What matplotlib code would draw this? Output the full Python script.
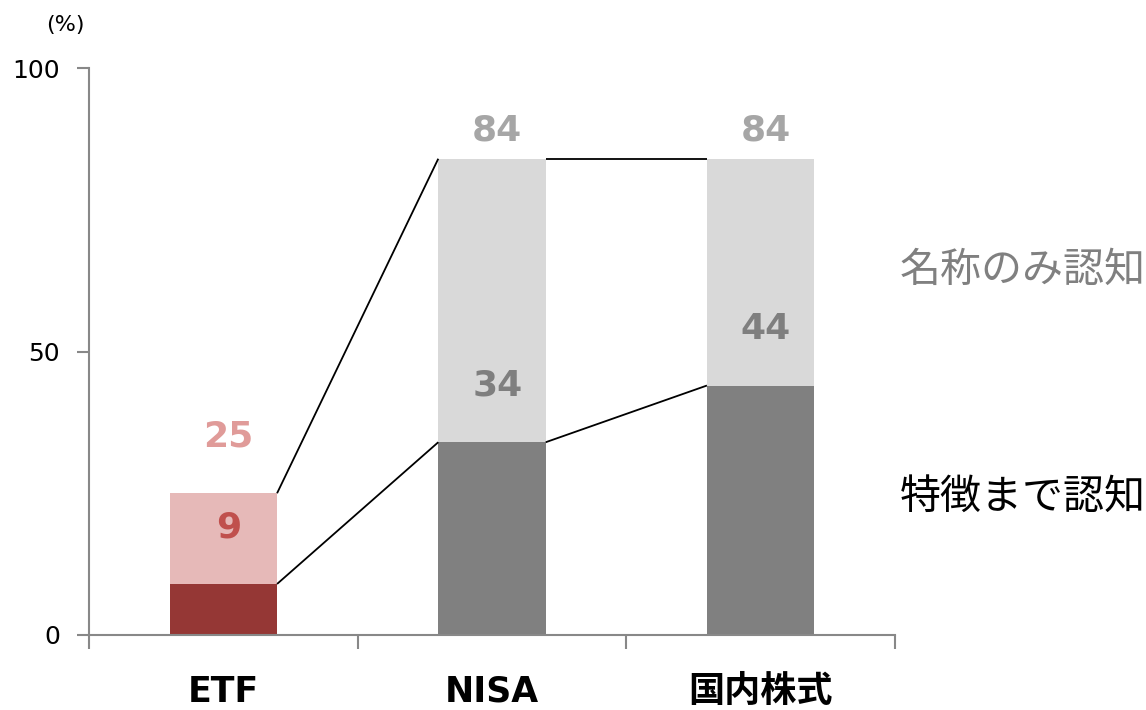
import matplotlib
matplotlib.use("Agg")
import matplotlib.pyplot as plt
import numpy as np

plt.rcParams['font.family'] = ['DejaVu Sans', 'Noto Sans CJK JP']

# ---- data ----
categories = ['ETF', 'NISA', '国内株式']
feature_aware = [9, 34, 44]      # 特徴まで認知 (lower segment)
total_aware = [25, 84, 84]       # 名称のみ認知 total (top of bar)
series_names = ['特徴まで認知', '名称のみ認知']
yticks = [0, 50, 100]

# ---- styles ----
dark_colors = ['#953735', '#808080', '#808080']
light_colors = ['#E6B9B8', '#D9D9D9', '#D9D9D9']
inner_label_colors = ['#C0504D', '#7F7F7F', '#7F7F7F']
top_label_colors = ['#E09B99', '#A6A6A6', '#A6A6A6']
top_label_offsets = [10, 5, 5]
bar_w = 0.4

fig = plt.figure(figsize=(11.46, 7.10), dpi=100)
ax = fig.add_axes([89/1146, 75/710, (895-89)/1146, (635-68)/710])

x = np.arange(len(categories))
upper = [t - f for t, f in zip(total_aware, feature_aware)]
ax.bar(x, feature_aware, width=bar_w, color=dark_colors, zorder=2)
ax.bar(x, upper, bottom=feature_aware, width=bar_w, color=light_colors, zorder=2)

# connecting lines
for i in range(len(categories) - 1):
    for vals in (feature_aware, total_aware):
        ax.plot([x[i] + bar_w/2, x[i+1] - bar_w/2], [vals[i], vals[i+1]],
                color='black', lw=1.3, zorder=3, solid_capstyle='butt')

# value labels
for i in range(len(categories)):
    ax.text(x[i] + 0.02, feature_aware[i] + 10, str(feature_aware[i]), ha='center', va='center',
            fontsize=26, fontweight='bold', color=inner_label_colors[i])
    ax.text(x[i] + 0.02, total_aware[i] + top_label_offsets[i], str(total_aware[i]), ha='center', va='center',
            fontsize=26, fontweight='bold', color=top_label_colors[i])

ax.set_xlim(-0.5, len(categories) - 0.5)
ax.set_ylim(0, 100)
ax.set_yticks(yticks)
ax.set_yticklabels([str(v) for v in yticks], fontsize=18)
ax.set_xticks(np.arange(len(categories) + 1) - 0.5)
ax.set_xticklabels([])
ax.tick_params(axis='y', length=9, width=1.5, color='#888888', pad=12)
ax.tick_params(axis='x', length=10, width=1.5, color='#888888')
for s in ('top', 'right'):
    ax.spines[s].set_visible(False)
for s in ('left', 'bottom'):
    ax.spines[s].set_color('#888888')
    ax.spines[s].set_linewidth(1.5)

# category labels
for i, c in enumerate(categories):
    ax.text(x[i], -0.1, c, transform=ax.get_xaxis_transform(), ha='center', va='center',
            fontsize=26 if i == 2 else 25, fontweight='bold',
            family=['DejaVu Sans', 'Noto Sans CJK JP'])

fig.text(65/1146, 1 - 25/710, '(%)', ha='center', va='center', fontsize=16)

# series labels on the right
fig.text(900/1146, 1 - 270/710, series_names[1], ha='left', va='center',
         fontsize=29.5, color='#808080', family=['Noto Sans CJK JP'])
fig.text(900/1146, 1 - 497/710, series_names[0], ha='left', va='center',
         fontsize=29.5, color='black', family=['Noto Sans CJK JP'])

fig.savefig('out.png', dpi=100)
